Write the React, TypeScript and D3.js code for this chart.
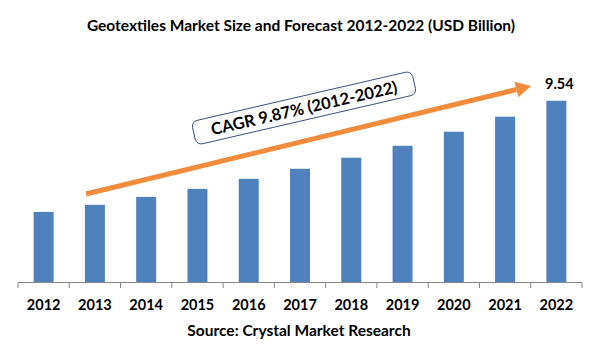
import React from "react";
import * as d3 from "d3";

const years = ["2012","2013","2014","2015","2016","2017","2018","2019","2020","2021","2022"];
const values = [3.69, 4.06, 4.48, 4.90, 5.43, 5.96, 6.54, 7.17, 7.91, 8.70, 9.54];
const title = "Geotextiles Market Size and Forecast 2012-2022 (USD Billion)";
const source = "Source: Crystal Market Research";
const cagrLabel = "CAGR 9.87% (2012-2022)";
const lastLabel = "9.54";

const W = 600, H = 360;
const FONT = "Lato, 'Open Sans', sans-serif";

export default function App() {
  const x = d3.scaleBand<string>().domain(years).range([18, 582]).paddingInner(0.61).paddingOuter(0.305);
  const y = d3.scaleLinear().domain([0, 10]).range([282, 92]);
  const step = x.step();
  const bw = x.bandwidth();
  const tickXs = years.map((d) => (x(d) as number) + bw / 2 - step / 2).concat([582]);

  // arrow annotation
  const ax0 = 86, ay0 = 194, ax1 = 531, ay1 = 86;
  const ang = Math.atan2(ay1 - ay0, ax1 - ax0);
  const headL = 15, headW = 8;
  const bx = ax1 - headL * Math.cos(ang), by = ay1 - headL * Math.sin(ang);
  const px = -Math.sin(ang), py = Math.cos(ang);
  const head = `M${ax1},${ay1}L${bx + px * headW},${by + py * headW}L${bx - px * headW},${by - py * headW}Z`;

  return (
    <svg width={W} height={H} style={{ display: "block", position: "absolute", left: 0, top: 0 }}>
      <rect width={W} height={H} fill="#fff" />
      <text x={301} y={31} textAnchor="middle" fontFamily={FONT} fontWeight="bold" fontSize={15.5} fill="#000">{title}</text>
      {years.map((d, i) => (
        <rect key={d} x={x(d)} y={y(values[i])} width={bw} height={y(0) - y(values[i])} fill="#4F81BD" />
      ))}
      <line x1={18} x2={582} y1={282.5} y2={282.5} stroke="#868686" strokeWidth={1} />
      {tickXs.map((t, i) => (
        <line key={i} x1={t} x2={t} y1={282} y2={288} stroke="#868686" strokeWidth={1} />
      ))}
      {years.map((d) => (
        <text key={d} x={(x(d) as number) + bw / 2} y={310} textAnchor="middle" fontFamily={FONT} fontWeight="bold" fontSize={14.5} fill="#000">{d}</text>
      ))}
      <text x={(x("2022") as number) + bw / 2 + 3} y={89} textAnchor="middle" fontFamily={FONT} fontWeight="bold" fontSize={14.5} fill="#000">{lastLabel}</text>
      <text x={299} y={336} textAnchor="middle" fontFamily={FONT} fontWeight="bold" fontSize={15.5} fill="#000">{source}</text>
      <line x1={ax0} y1={ay0} x2={bx} y2={by} stroke="#F28C3C" strokeWidth={5} />
      <path d={head} fill="#F28C3C" />
      <g transform="translate(304,108) rotate(-13)">
        <rect x={-113} y={-12} width={226} height={24} rx={6} fill="#fff" stroke="#2F4B7C" strokeWidth={0.9} />
        <text x={0} y={6} textAnchor="middle" fontFamily={FONT} fontWeight="bold" fontSize={16.5} fill="#000">{cagrLabel}</text>
      </g>
    </svg>
  );
}
